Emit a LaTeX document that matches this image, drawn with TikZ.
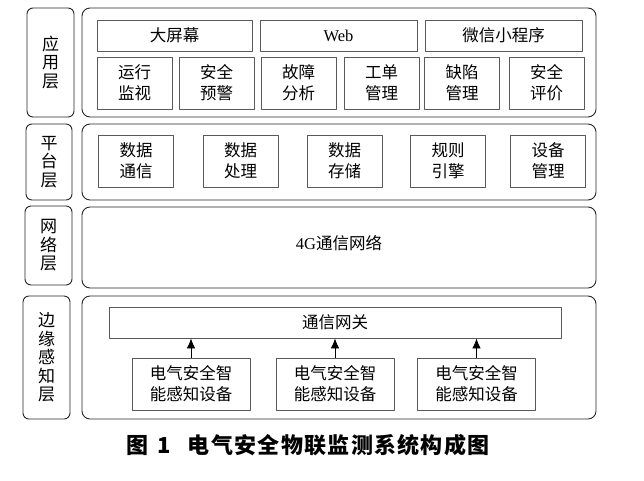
\documentclass[tikz,border=0pt]{standalone}
\usepackage{fontspec}
\setmainfont{Liberation Serif}
\newfontfamily\cjk{Noto Sans CJK SC}
\newfontfamily\cjkcap{Noto Sans CJK SC}[LetterSpace=6]
\usetikzlibrary{arrows.meta}

\begin{document}
\begin{tikzpicture}[x=1pt,y=-1pt,line cap=round,line join=round]
\tikzset{>={Latex[length=10pt,width=8.5pt]}}
\tikzset{
  layer/.style={draw=black!85,line width=0.9pt,rounded corners=8pt,inner sep=0pt},
  tag/.style={draw=black!85,line width=0.9pt,rounded corners=6pt,inner sep=0pt,align=center,
    font=\cjk\fontsize{17}{18.5}\selectfont},
  item/.style={draw=black!65,line width=0.8pt,inner sep=0pt,align=center,
    font=\cjk\fontsize{16.5}{21}\selectfont},
}
\def\itemw{75}
\def\itemh{52}
\useasboundingbox (0,0) rectangle (644,480);

% layer tags
\node[tag,minimum width=47,minimum height=109] (appTag) at (50.5,62.5) {应\\用\\层};
\node[tag,minimum width=46,minimum height=76] (platTag) at (49,162) {平\\台\\层};
\node[tag,minimum width=47,minimum height=79] (netTag) at (48.5,245.5) {网\\络\\层};
\node[tag,minimum width=47,minimum height=123] (edgeTag) at (46.5,357.5) {边\\缘\\感\\知\\层};

% layer frames
\node[layer,minimum width=514,minimum height=109] (app) at (339,62.5) {};
\node[layer,minimum width=514,minimum height=76] (plat) at (339,162) {};
\node[layer,minimum width=514,minimum height=81] (net) at (339,247.5) {};
\node[layer,minimum width=514,minimum height=123] (edge) at (339,357.5) {};

% application layer
\node[item,minimum width=155,minimum height=31] (screen) at (174.5,35.5) {大屏幕};
\node[item,minimum width=157,minimum height=31] (web) at (338.5,35.5) {\rmfamily Web};
\node[item,minimum width=157,minimum height=31] (wechat) at (503.5,35.5) {微信小程序};
\foreach \cx/\txt [count=\i] in {134.5/运行\\监视, 216.5/安全\\预警, 298.5/故障\\分析,
    381.5/工单\\管理, 462/缺陷\\管理, 546.5/安全\\评价} {
  \node[item,minimum width=\itemw,minimum height=\itemh] (app\i) at (\cx,83) {\txt};
}

% platform layer
\foreach \cx/\txt [count=\i] in {136/数据\\通信, 240.5/数据\\处理, 344.5/数据\\存储,
    448/规则\\引擎, 548/设备\\管理} {
  \node[item,minimum width=\itemw,minimum height=\itemh] (plat\i) at (\cx,161) {\txt};
}

% network layer
\node[font=\cjk\fontsize{16.5}{21}\selectfont] (net4g) at (339,243) {{\rmfamily 4G}通信网络};

% edge layer
\node[item,minimum width=452,minimum height=31] (gw) at (335,322.5) {通信网关};
\foreach \cx [count=\i] in {191,335,476.5} {
  \node[item,minimum width=118,minimum height=\itemh] (dev\i) at (\cx,384) {电气安全智\\能感知设备};
  \draw[->,line width=0.8pt] (dev\i.north) -- (dev\i.north |- gw.south);
}

% caption
\node[font=\cjkcap\bfseries\fontsize{22}{26}\selectfont] (caption) at (308,445)
  {图\hspace{9pt}1\hspace{17pt}电气安全物联监测系统构成图};
\end{tikzpicture}
\end{document}
